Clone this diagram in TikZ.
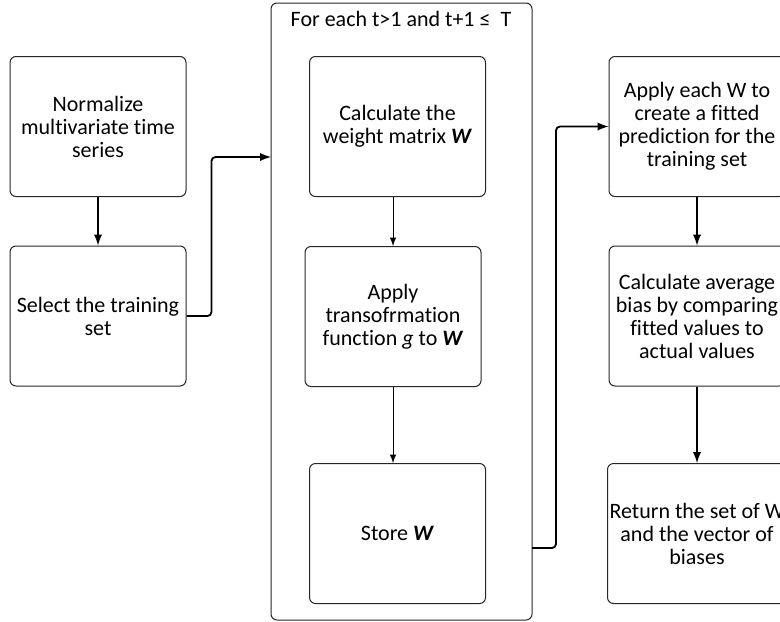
\documentclass[tikz,border=0pt]{standalone}
\usepackage{fontspec}
\setmainfont[Ligatures={NoCommon}]{Carlito}
\usetikzlibrary{arrows}
\tikzset{>=latex}
\tikzset{
	box/.style={draw=black!85, line width=0.5pt, rounded corners=3pt, align=center,
			minimum width=88pt, minimum height=70pt, inner sep=1pt,
			font=\fontsize{11}{11.5}\selectfont},
	loopbox/.style={draw=black!85, line width=0.5pt, rounded corners=3pt,
			minimum width=130.5pt, minimum height=308.5pt},
	flow/.style={->, line width=0.9pt, rounded corners=2pt},
	thinflow/.style={->, line width=0.45pt}
}

\begin{document}
\begin{tikzpicture}[x=0.5pt, y=-0.5pt]
	\useasboundingbox (0,0) rectangle (780,621);

	% loop over t
	\node[loopbox] (loop) at (401.5,311.5) {};
	\node[font=\fontsize{11}{11.5}\selectfont] (looptitle) at (401,19) {For each t>1 and t+1 ≤ \ T};

	% left column
	\node[box] (norm) at (98,126.5) {Normalize\\multivariate time\\series};
	\node[box] (select) at (98,316) {Select the training\\set};

	% middle column
	\node[box] (calcw) at (397.5,126.5) {Calculate the\\weight matrix \textbf{\textit{W}}};
	\node[box] (transf) at (393,316.5) {Apply\\transofrmation\\function \textit{g} to \textbf{\textit{W}}};
	\node[box] (store) at (397.5,533.5) {Store \textbf{\textit{W}}};

	% right column
	\node[box] (fit) at (697,126.5) {Apply each W to\\create a fitted\\prediction for the\\training set};
	\node[box] (bias) at (697,316) {Calculate average\\bias by comparing\\fitted values to\\actual values};
	\node[box] (ret) at (697,533.5) {Return the set of W\\and the vector of\\biases};

	\coordinate (loopin) at (271,157);
	\coordinate (loopout) at (532,548);

	\draw[flow] (norm) -- (select);
	\draw[flow] (select.east) -- ++(25,0) |- (loopin);

	\draw[thinflow] (calcw.south -| transf) -- (transf.north);
	\draw[thinflow] (transf.south) -- (store.north -| transf);

	\draw[flow] (loopout) -- ++(24,0) |- (fit.west);
	\draw[flow] (fit) -- (bias);
	\draw[flow] (bias) -- (ret);
\end{tikzpicture}
\end{document}
